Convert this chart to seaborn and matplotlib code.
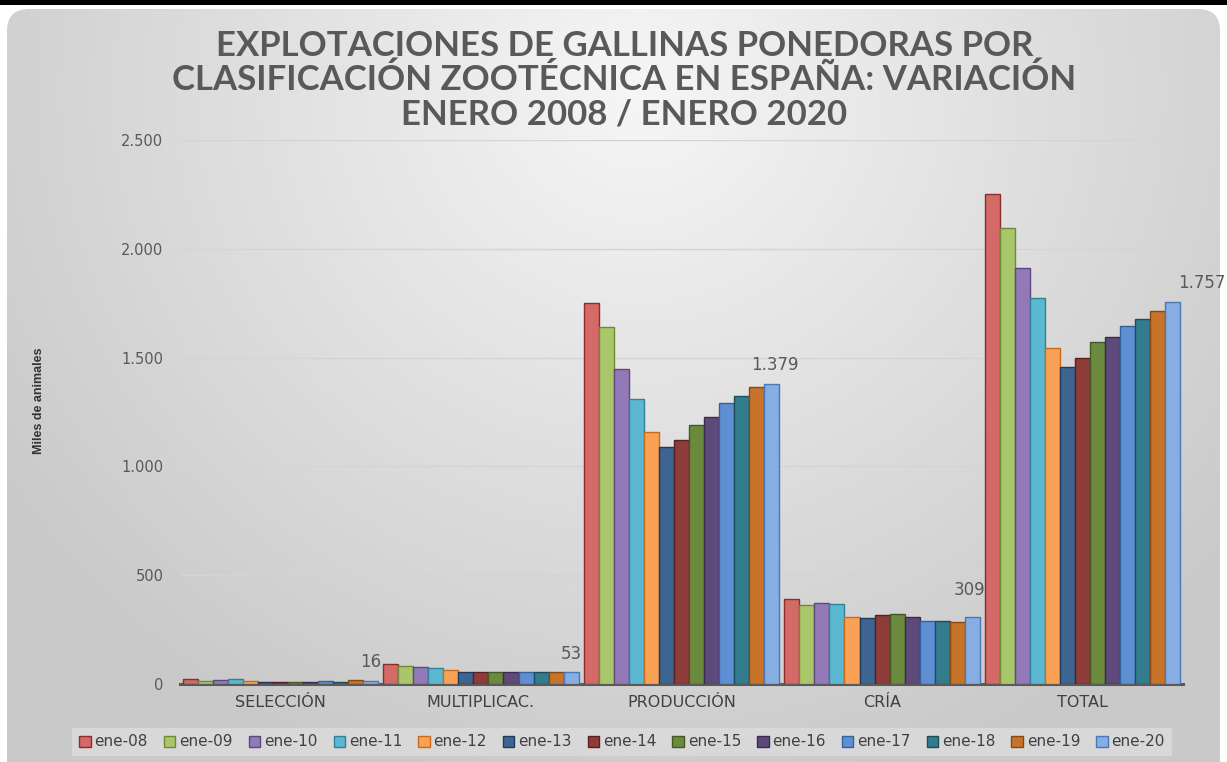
import numpy as np
import pandas as pd
import matplotlib
matplotlib.use("Agg")
import matplotlib.pyplot as plt
import matplotlib.patches as mpatches
from matplotlib.ticker import FuncFormatter, MultipleLocator
import seaborn as sns

# ---------------- data ----------------
categories = ["SELECCIÓN", "MULTIPLICAC.", "PRODUCCIÓN", "CRÍA", "TOTAL"]
months = ["ene-08", "ene-09", "ene-10", "ene-11", "ene-12", "ene-13", "ene-14",
          "ene-15", "ene-16", "ene-17", "ene-18", "ene-19", "ene-20"]
seleccion = [23, 15, 18, 23, 15, 9, 9, 10, 10, 12, 11, 18, 16]
multiplicac = [90, 81, 78, 73, 63, 55, 56, 55, 57, 55, 56, 56, 53]
produccion = [1752, 1642, 1446, 1310, 1160, 1091, 1121, 1192, 1229, 1293, 1322, 1364, 1379]
cria = [392, 362, 373, 367, 309, 304, 319, 323, 307, 290, 290, 286, 309]
total = [2252, 2097, 1910, 1772, 1543, 1455, 1500, 1573, 1596, 1647, 1679, 1716, 1757]

face_colors = ["#D46A67", "#A9C76A", "#9479B8", "#5BB8D0", "#F9A155", "#3E6591", "#8E3C3A",
               "#6C8A3E", "#5E4A7A", "#5F8FD3", "#327C8E", "#C8732A", "#86AEE3"]
edge_colors = ["#8B2D2B", "#6F8A35", "#5E467F", "#2F8099", "#C96B1B", "#1F3A5C", "#5A1F1E",
               "#435824", "#3A2B4F", "#35609E", "#1C4D5A", "#8A4710", "#4A77B7"]

series = [seleccion, multiplicac, produccion, cria, total]
rows = []
for cat, vals in zip(categories, series):
    for m, v in zip(months, vals):
        rows.append({"cat": cat, "mes": m, "val": v})
df = pd.DataFrame(rows)

W, H = 1227, 762
fig = plt.figure(figsize=(W / 100, H / 100), dpi=100)
fig.patch.set_facecolor("white")

# ---------------- background panel ----------------
bg = fig.add_axes([0, 0, 1, 1], zorder=-10)
bg.set_xlim(0, W)
bg.set_ylim(H, 0)
bg.axis("off")
yy, xx = np.mgrid[0:H:2, 0:W:2]
d = np.sqrt(((xx - W * 0.52) / (W * 0.62)) ** 2 + ((yy - H * 0.12) / (H * 0.95)) ** 2)
d = np.clip(d, 0, 1)
top_c = np.array([0.965, 0.965, 0.965])
edge_c = np.array([0.79, 0.79, 0.79])
img = top_c[None, None, :] * (1 - d[..., None]) + edge_c[None, None, :] * d[..., None]
im = bg.imshow(img, extent=(0, W, H, 0), aspect="auto", interpolation="bilinear")
panel = mpatches.FancyBboxPatch((7, 9), W - 14, H + 20,
                                boxstyle="round,pad=0,rounding_size=22",
                                transform=bg.transData, facecolor="none", edgecolor="none")
bg.add_patch(panel)
im.set_clip_path(panel)
bg.add_patch(mpatches.Rectangle((0, 0), W, 5, facecolor="black", edgecolor="none"))

# ---------------- main axes ----------------
ax = fig.add_axes([180 / W, 1 - 684 / H, 1003 / W, 544 / H])
ax.patch.set_alpha(0)
sns.barplot(data=df, x="cat", y="val", hue="mes", palette=face_colors,
            width=0.975, gap=0, ax=ax, legend=False, saturation=1)

for cont, ec in zip(ax.containers, edge_colors):
    for p in cont.patches:
        p.set_edgecolor(ec)
        p.set_linewidth(1.0)
        p.set_zorder(3)

ax.set_xlim(-0.5, 4.5)
ax.set_ylim(0, 2500)
ax.yaxis.set_major_locator(MultipleLocator(500))
ax.yaxis.set_major_formatter(FuncFormatter(lambda v, p: f"{int(v):,}".replace(",", ".")))
ax.grid(axis="y", color="#d4d4d4", linewidth=1.0, zorder=0)
ax.set_axisbelow(True)
for s in ["top", "right", "left"]:
    ax.spines[s].set_visible(False)
ax.spines["bottom"].set_color("#5a5a5a")
ax.spines["bottom"].set_linewidth(2.2)
ax.tick_params(axis="y", length=0, pad=12, labelsize=10.5, labelcolor="#595959")
ax.tick_params(axis="x", length=0, pad=8, labelsize=11.5, labelcolor="#404040")
ax.set_xlabel("")
ax.set_ylabel("Miles de animales", fontsize=9, color="#333333", fontweight="bold",
              family=["Liberation Sans", "DejaVu Sans"])
ax.yaxis.set_label_coords(-0.135, 0.52)

# data labels on the last series
label_offsets = [(0, 7), (0, 7), (2, 7), (-2, 13), (21, 7)]
last = ax.containers[-1]
for p, off in zip(last.patches, label_offsets):
    v = p.get_height()
    ax.annotate(f"{int(round(v)):,}".replace(",", "."),
                (p.get_x() + p.get_width() / 2, v), xytext=off, textcoords="offset points",
                ha="center", va="bottom", fontsize=12, color="#595959")

# title
fig.text(0.509, 1 - 80 / H,
         "EXPLOTACIONES DE GALLINAS PONEDORAS POR\nCLASIFICACIÓN ZOOTÉCNICA EN ESPAÑA: VARIACIÓN\nENERO 2008 / ENERO 2020",
         ha="center", va="center", fontsize=25, fontweight="bold", color="#595959",
         family=["Lato", "DejaVu Sans"], linespacing=1.08)

# legend
handles = [mpatches.Patch(facecolor=fc, edgecolor=ec, linewidth=1.0)
           for fc, ec in zip(face_colors, edge_colors)]
leg = fig.legend(handles, months, loc="center", bbox_to_anchor=(0.507, 1 - 742 / H),
                 ncol=13, frameon=True, handlelength=0.75, handleheight=0.75,
                 handletextpad=0.25, columnspacing=1.05, borderpad=0.45,
                 prop={"family": ["DejaVu Sans"], "size": 11})
leg.get_frame().set_facecolor("#dcdcdc")
leg.get_frame().set_edgecolor("none")
leg.get_frame().set_boxstyle("square", pad=0.0)
for t in leg.get_texts():
    t.set_color("#404040")

fig.savefig("out.png", dpi=100)
